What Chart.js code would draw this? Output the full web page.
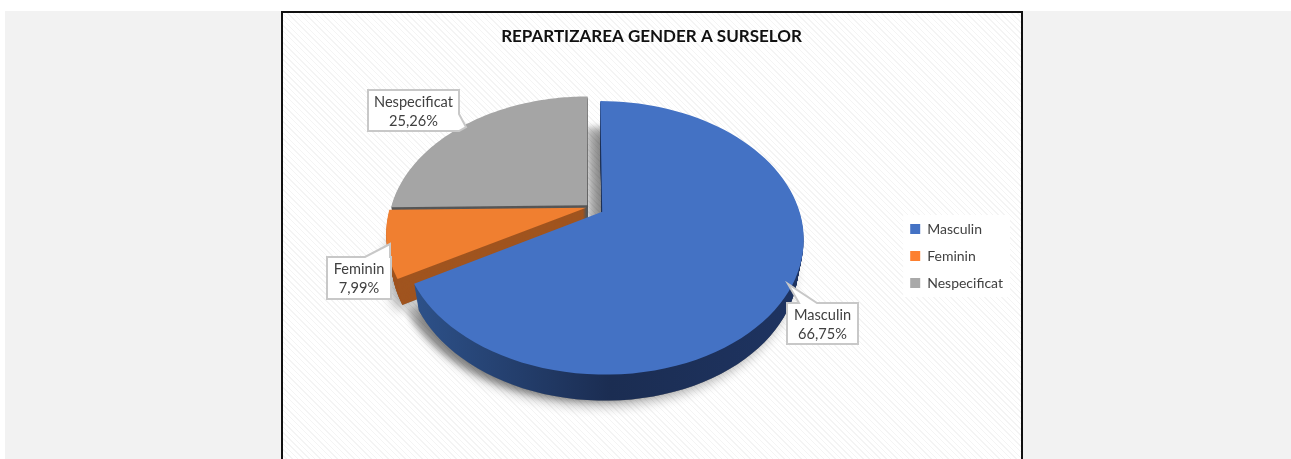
<!DOCTYPE html>
<html>
<head>
<meta charset="utf-8">
<title>Repartizarea gender a surselor</title>
<script src="https://cdn.jsdelivr.net/npm/chart.js@4"></script>
<style>
  html, body { margin: 0; padding: 0; background: #fff; overflow: hidden; }
  #panel { position: absolute; left: 5px; top: 11px; width: 1286px; height: 448px; background: #f2f2f2; }
  #box {
    position: absolute; left: 281px; top: 11px; width: 738px; height: 460px;
    border: 2px solid #111;
    background: repeating-linear-gradient(45deg, #f4f4f4 0 1px, #fff 1px 4px);
    overflow: hidden;
  }
  #grafic { position: absolute; left: 0; top: 0; }
</style>
</head>
<body>
<div id="panel"></div>
<div id="box"><canvas id="grafic" width="738" height="486"></canvas></div>
<script>
const categories = ["Masculin", "Feminin", "Nespecificat"];
const percentValues = [66.75, 7.99, 25.26];
const sliceOffsets = [14, 4, 4];
const sliceColors = ["#4472c4", "#f07f30", "#a5a5a5"];
const legendColors = ["#4472c4", "#fd8030", "#a9a9a9"];
const wallColors = ["#23406f", "#a0541f", "#565656"];
const chartTitle = "REPARTIZAREA GENDER A SURSELOR";
const fontName = "Lato, 'Open Sans', sans-serif";

// vedere in perspectiva: coordonate in canvas
const view = { cx: 307, cy: 194, a: 196, b: 130, p: 0.19, depth: 26, shrink: 0.025 };

// etichete cu sageata, in coordonate canvas
const callouts = [
  { box: [504, 290, 71, 41], outline: [[504, 290], [516, 290], [505, 271], [534, 290], [575, 290], [575, 331], [504, 331]] },
  { box: [44, 244, 64, 42], outline: [[44, 244], [82, 244], [107, 231], [107, 244], [108, 244], [108, 286], [44, 286]] },
  { box: [85, 77, 91, 41], outline: [[85, 77], [176, 77], [176, 101], [183, 114], [176, 118], [85, 118]] },
];

function project(u, v, dy) {
  const w = 1 - view.p * v;
  const d = dy || 0;
  const s = 1 - view.shrink * d / view.depth; // peretele se strange spre punctul de fuga
  return [view.cx + view.a * s * u / w, view.cy + view.b * v / w + d];
}

function slicePath(ctx, arc, dy) {
  const mid = (arc.startAngle + arc.endAngle) / 2;
  const off = (arc.options.offset || 0) / view.a;
  const ex = Math.cos(mid) * off, ey = Math.sin(mid) * off;
  ctx.beginPath();
  let p = project(ex, ey, dy);
  ctx.moveTo(p[0], p[1]);
  const steps = 90;
  for (let i = 0; i <= steps; i++) {
    const t = arc.startAngle + (arc.endAngle - arc.startAngle) * i / steps;
    p = project(ex + Math.cos(t), ey + Math.sin(t), dy);
    ctx.lineTo(p[0], p[1]);
  }
  ctx.closePath();
}

const pie3d = {
  id: "pie3d",
  beforeDraw(chart) {
    // fundal alb doar sub intrarile legendei
    const hits = chart.legend.legendHitBoxes, ctx = chart.ctx;
    const first = hits[0], last = hits[hits.length - 1];
    const right = Math.max(...hits.map(h => h.left + h.width));
    ctx.save();
    ctx.fillStyle = "#fff";
    ctx.fillRect(first.left - 7, first.top - 7, right - first.left + 14, last.top + last.height - first.top + 14);
    ctx.restore();
  },
  beforeDatasetDraw(chart, args) {
    const ctx = chart.ctx;
    const arcs = args.meta.data;
    const order = [2, 1, 0]; // din spate in fata

    ctx.save();
    // umbra
    ctx.shadowColor = "rgba(0,0,0,0.32)";
    ctx.shadowBlur = 12;
    ctx.shadowOffsetX = -5;
    ctx.shadowOffsetY = 5;
    ctx.fillStyle = "#888";
    order.forEach(i => {
      slicePath(ctx, arcs[i], view.depth);
      ctx.fill();
    });
    // umbra felului mare peste spatiul dintre felii
    ctx.shadowColor = "rgba(0,0,0,0.28)";
    ctx.shadowBlur = 6;
    ctx.shadowOffsetX = -13;
    ctx.shadowOffsetY = 0;
    slicePath(ctx, arcs[0], view.depth);
    ctx.fill();
    ctx.restore();

    order.forEach(i => {
      const arc = arcs[i];
      ctx.save();
      if (i === 0) {
        const g = ctx.createLinearGradient(view.cx - view.a, 0, view.cx + view.a, 0);
        g.addColorStop(0, "#2f558f");
        g.addColorStop(0.55, "#1b2d52");
        g.addColorStop(1, "#1e3360");
        ctx.fillStyle = g;
      } else {
        ctx.fillStyle = wallColors[i];
      }
      for (let d = view.depth; d > 0; d--) {
        slicePath(ctx, arc, d);
        ctx.fill();
      }
      ctx.fillStyle = sliceColors[i];
      slicePath(ctx, arc, 0);
      ctx.fill();
      ctx.restore();
    });
    return false;
  },
  afterDatasetsDraw(chart) {
    const ctx = chart.ctx;
    callouts.forEach((c, i) => {
      const [x, y, w, h] = c.box;
      ctx.save();
      ctx.beginPath();
      c.outline.forEach((p, k) => (k ? ctx.lineTo(p[0], p[1]) : ctx.moveTo(p[0], p[1])));
      ctx.closePath();
      ctx.fillStyle = "#fff";
      ctx.fill();
      ctx.strokeStyle = "#c8c8c8";
      ctx.lineWidth = 2;
      ctx.stroke();
      ctx.fillStyle = "#404040";
      ctx.font = "14.6px " + fontName;
      ctx.textAlign = "center";
      ctx.textBaseline = "middle";
      ctx.fillText(categories[i], x + w / 2, y + 12);
      ctx.fillText(percentValues[i].toFixed(2).replace(".", ",") + "%", x + w / 2, y + 31);
      ctx.restore();
    });
  },
};

new Chart(document.getElementById("grafic"), {
  type: "pie",
  data: {
    labels: categories,
    datasets: [
      {
        data: percentValues,
        backgroundColor: legendColors,
        offset: sliceOffsets,
        borderWidth: 0,
      },
    ],
  },
  options: {
    responsive: false,
    animation: false,
    events: [],
    layout: { padding: { left: 7, right: 8 } },
    plugins: {
      title: {
        display: true,
        text: chartTitle,
        color: "#111",
        font: { family: fontName, size: 17, weight: "bold" },
        padding: { top: 13, bottom: 9 },
      },
      legend: {
        display: true,
        position: "right",
        labels: {
          boxWidth: 10,
          boxHeight: 10,
          padding: 13,
          color: "#404040",
          font: { family: fontName, size: 14 },
        },
      },
      tooltip: { enabled: false },
    },
  },
  plugins: [pie3d],
});
</script>
</body>
</html>
